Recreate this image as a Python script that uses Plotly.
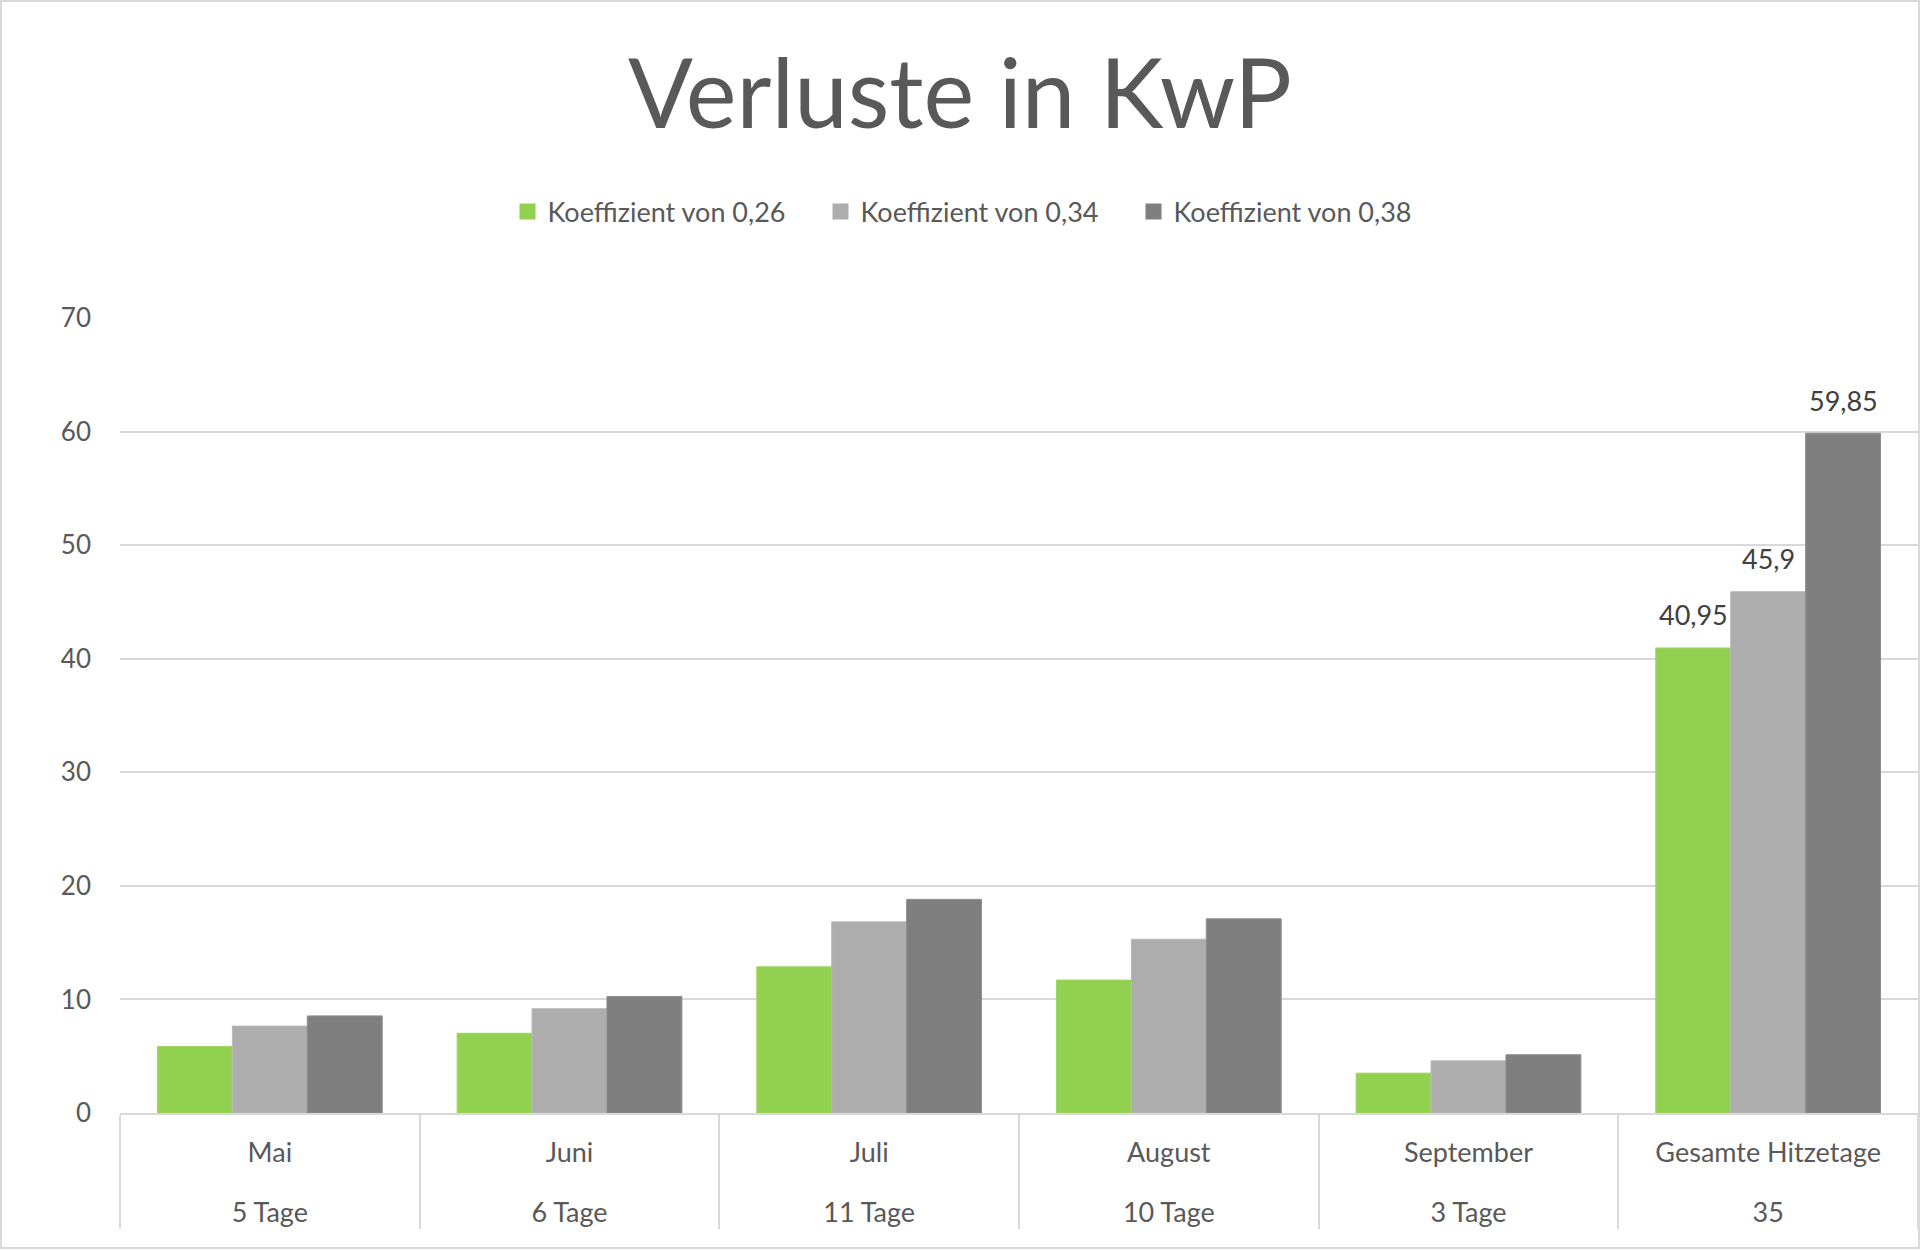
import plotly.graph_objects as go

months = ["Mai", "Juni", "Juli", "August", "September", "Gesamte Hitzetage"]
days = ["5 Tage", "6 Tage", "11 Tage", "10 Tage", "3 Tage", "35"]
series_names = ["Koeffizient von 0,26", "Koeffizient von 0,34", "Koeffizient von 0,38"]
k026 = [5.85, 7.02, 12.87, 11.7, 3.51, 40.95]
k034 = [7.65, 9.18, 16.83, 15.3, 4.59, 45.9]
k038 = [8.55, 10.26, 18.81, 17.1, 5.13, 59.85]
colors = ["#92D050", "#ADADAD", "#7F7F7F"]
edge_colors = ["#9CD662", "#B8B8B8", "#8E8E8E"]
y_ticks = [0, 10, 20, 30, 40, 50, 60, 70]

W, H = 1920, 1251
ML, MR, MT, MB = 120, 2, 318, 138
BARGAP = 0.25
FONT = "Lato, Open Sans, sans-serif"
TXT = "#595959"
LBL = "<span style='font-size:27px'>{}</span>"

inner = [LBL.format(m) for m in months]
outer = ["<br>" + LBL.format(d) for d in days]

fig = go.Figure()
all_series = [k026, k034, k038]
for name, vals, c, ec in zip(series_names, all_series, colors, edge_colors):
    fig.add_trace(go.Bar(
        x=[outer, inner], y=vals, name=name,
        marker=dict(color=c, line=dict(width=1, color=ec)),
        cliponaxis=False, showlegend=False,
    ))
# legend entries with square swatches
for name, c in zip(series_names, colors):
    fig.add_trace(go.Scatter(
        x=[None], y=[None], mode="markers", name=name,
        marker=dict(symbol="square", size=19, color=c),
        showlegend=True,
    ))

# data labels on the total group only
plot_w = W - ML - MR
bar_px = plot_w / len(months) * (1 - BARGAP) / len(all_series)
for i, vals in enumerate(all_series):
    fig.add_annotation(
        x=len(months) - 1, y=vals[-1], xref="x", yref="y",
        text=f"{vals[-1]:g}".replace(".", ","), showarrow=False,
        xshift=(i - (len(all_series) - 1) / 2) * bar_px, yshift=33,
        font=dict(family=FONT, size=27, color="#404040"),
        xanchor="center", yanchor="middle",
    )

fig.update_layout(
    width=W, height=H,
    margin=dict(l=ML, r=MR, t=MT, b=MB, autoexpand=False),
    paper_bgcolor="white", plot_bgcolor="white",
    barmode="group", bargap=BARGAP, bargroupgap=0,
    font=dict(family=FONT, color=TXT, size=26),
    title=dict(text="Verluste in KwP", x=0.5, xanchor="center", xref="container",
               y=1 - 94 / H, yanchor="middle", yref="container",
               font=dict(family=FONT, size=96, color=TXT)),
    legend=dict(orientation="h", xref="container", yref="container",
                x=0.5 + 17 / W, xanchor="center", y=1 - 212 / H, yanchor="middle",
                font=dict(family=FONT, size=27, color=TXT),
                entrywidth=268, entrywidthmode="pixels",
                traceorder="normal", itemsizing="trace"),
    showlegend=True,
)
fig.update_yaxes(range=[0, 70], tickvals=y_ticks, showgrid=True, gridcolor="#D9D9D9",
                 gridwidth=1.5, zeroline=False, showline=False, automargin=False,
                 tickfont=dict(family=FONT, size=26, color=TXT),
                 ticks="", ticklabelstandoff=28)
fig.update_xaxes(type="multicategory", showline=True, linecolor="#D9D9D9", linewidth=1.5,
                 showdividers=True, dividercolor="#D9D9D9", dividerwidth=1.5,
                 automargin=False, ticklabelstandoff=12,
                 tickfont=dict(family=FONT, size=29, color=TXT), ticks="",
                 showgrid=False)

# outer chart frame
fig.add_shape(type="rect", xref="paper", yref="paper",
              x0=-(ML - 1) / plot_w, x1=1 + (MR - 1) / plot_w,
              y0=-(MB - 3) / (H - MT - MB), y1=1 + (MT - 1) / (H - MT - MB),
              line=dict(color="#D9D9D9", width=2), layer="below")

fig.write_html("out.html", config={"displayModeBar": False},
               post_script="document.body.style.margin='0px';")
